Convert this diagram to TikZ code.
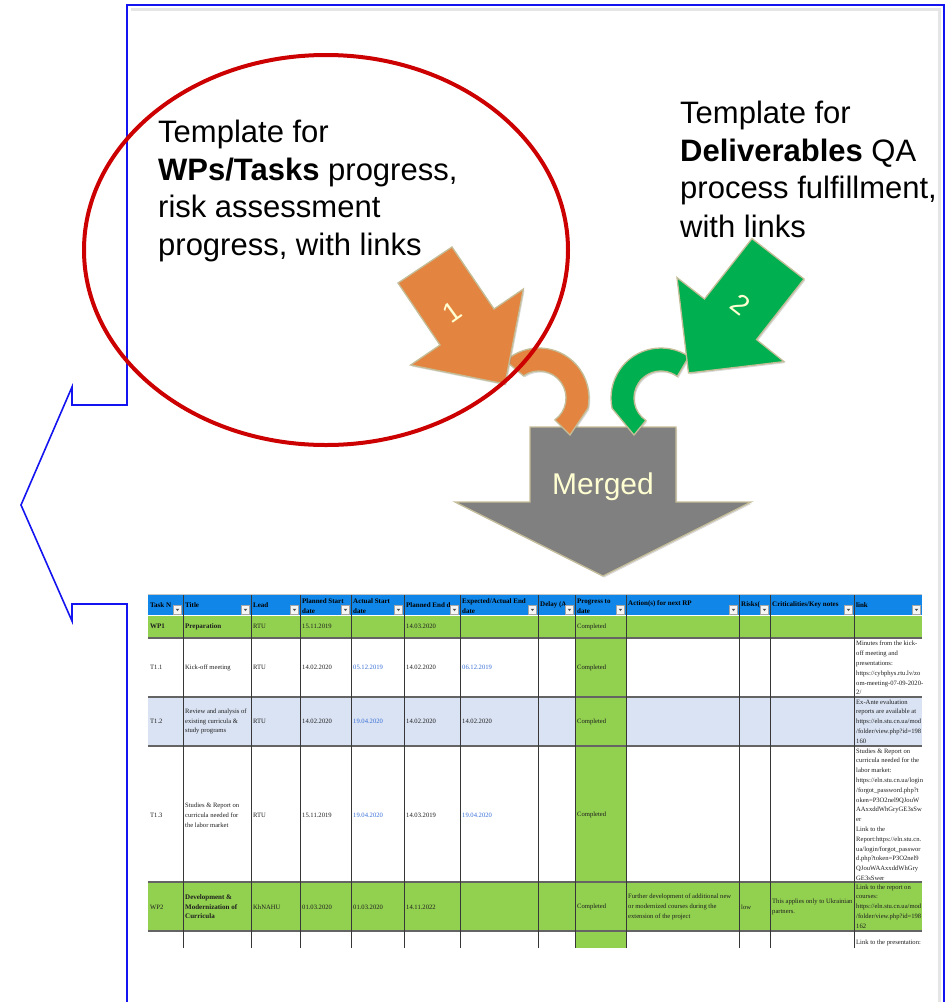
\documentclass[tikz,border=0pt]{standalone}
\usepackage{fontspec}
\setmainfont{Liberation Sans}
\newfontfamily\tabserif{Liberation Serif}
\usetikzlibrary{shadows,calc}
\definecolor{frameblue}{RGB}{20,20,240}
\definecolor{ellred}{RGB}{204,0,0}
\definecolor{arrorange}{RGB}{227,133,64}
\definecolor{arrgreen}{RGB}{0,176,80}
\definecolor{arrgray}{RGB}{128,128,128}
\definecolor{arredge}{RGB}{196,189,151}
\definecolor{cream}{RGB}{255,255,210}
\definecolor{hdrblue}{RGB}{16,134,232}
\definecolor{xlgreen}{RGB}{146,208,80}
\definecolor{xlblue}{RGB}{218,227,243}
\definecolor{datelink}{RGB}{55,110,215}
\definecolor{gridc}{RGB}{55,55,55}
\definecolor{sepc}{RGB}{100,100,100}
\definecolor{tabtext}{RGB}{30,30,30}
\newcommand\tabfont{\tabserif\fontsize{6.6}{9.8}\selectfont}
\newcommand\tabfontb{\tabserif\bfseries\fontsize{7}{9.6}\selectfont}
\newcommand\tc[5][]{\node[tcell,#1] (#2) at (#3,#4) {#5};}
\begin{document}
\begin{tikzpicture}[x=1pt,y=-1pt,
  frameline/.style={draw=frameblue, line width=1.6, line join=miter},
  shapeedge/.style={draw=arredge, line width=1.3, line join=miter,
     drop shadow={opacity=0.3, shadow xshift=1.2pt, shadow yshift=-1.5pt}},
  bigtext/.style={anchor=base west, inner sep=0pt, font=\fontsize{31}{38}\selectfont, text=black},
  numtext/.style={inner sep=0pt, font=\fontsize{28}{30}\selectfont, text=cream},
  mergedtext/.style={anchor=base, inner sep=0pt, font=\fontsize{30}{34}\selectfont, text=cream},
  tcell/.style={anchor=west, inner sep=0pt, align=left, font=\tabfont, text=tabtext},
  thdr/.style={anchor=west, inner sep=0pt, align=left, font=\tabfontb, text=black},
  bold/.style={font=\tabfontb},
  blu/.style={text=datelink},
  btn/.style={draw=gray!70, fill=gray!8, line width=0.4}
]
\useasboundingbox (0,0) rectangle (947,1002);

% ---------- callout frame ----------
\draw[black!10, line width=3] (131,9.5) -- (939.5,9.5) -- (939.5,1006);
\draw[frameline] (944,1006) -- (944,5) -- (127,5) -- (127,405) -- (72,405) -- (72,387)
   -- (21,505) -- (72,621) -- (72,604) -- (127,604) -- (127,1006);

% ---------- table ----------
\fill[hdrblue] (148,595) rectangle (922,615);
\fill[xlgreen] (148,616) rectangle (922,638);
\fill[xlblue] (148,697) rectangle (922,746);
\fill[xlgreen] (148,882) rectangle (922,931);
\fill[xlgreen] (575,638) rectangle (626,948);
\draw[gray!45, line width=0.8] (148,594.5) -- (922,594.5);
\foreach \yy in {638,697,746,882,931}
  \draw[sepc, line width=1.8] (148,\yy) -- (922,\yy);
\foreach \xx in {183,251,300,351,404,460,538,575,626,739,770,854}
  \draw[gridc, line width=0.8] (\xx,595) -- (\xx,948);

% header
\node[thdr] (h1) at (150,605) {Task N};
\node[thdr] (h2) at (185,605) {Title};
\node[thdr] (h3) at (253,605) {Lead};
\node[thdr] (h4) at (302,606) {Planned Start\\date};
\node[thdr] (h5) at (353,606) {Actual Start\\date};
\node[thdr] (h6) at (406,605) {Planned End d};
\node[thdr] (h7) at (462,606) {Expected/Actual End\\date};
\node[thdr] (h8) at (540,605) {Delay (A};
\node[thdr] (h9) at (577,606) {Progress to\\date};
\node[thdr] (h10) at (628,604) {Action(s) for next RP};
\node[thdr] (h11) at (741,605) {Risks(};
\node[thdr] (h12) at (772,605) {Criticalities/Key notes};
\node[thdr] (h13) at (856,605) {link};
\foreach \r in {183,251,300,351,404,460,538,575,626,739,770,854,922}{
  \draw[btn] (\r-9.5,605.5) rectangle (\r-1.5,614);
  \fill[gray!60!black] (\r-7.3,608.8) -- (\r-3.7,608.8) -- (\r-5.5,611) -- cycle;
}

% WP1
\tc[bold]{a1}{150}{626.5}{WP1}
\tc[bold]{a2}{185}{626.5}{Preparation}
\tc{a3}{253}{626.5}{RTU}
\tc{a4}{302}{626.5}{15.11.2019}
\tc{a6}{406}{626.5}{14.03.2020}
\tc{a9}{577}{626.5}{Completed}

% T1.1
\tc{b1}{150}{667.5}{T1.1}
\tc{b2}{185}{667.5}{Kick-off meeting}
\tc{b3}{253}{667.5}{RTU}
\tc{b4}{302}{667.5}{14.02.2020}
\tc[blu]{b5}{353}{667.5}{05.12.2019}
\tc{b6}{406}{667.5}{14.02.2020}
\tc[blu]{b7}{462}{667.5}{06.12.2019}
\tc{b9}{577}{667.5}{Completed}
\tc{b13}{856}{668}{Minutes from the kick-\\off meeting and\\presentations:\\https://cybphys.rtu.lv/zo\\om-meeting-07-09-2020-\\2/}

% T1.2
\tc{c1}{150}{721.5}{T1.2}
\tc{c2}{185}{721.5}{Review and analysis of\\existing curricula \&\\study programs}
\tc{c3}{253}{721.5}{RTU}
\tc{c4}{302}{721.5}{14.02.2020}
\tc[blu]{c5}{353}{721.5}{19.04.2020}
\tc{c6}{406}{721.5}{14.02.2020}
\tc{c7}{462}{721.5}{14.02.2020}
\tc{c9}{577}{721.5}{Completed}
\tc{c13}{856}{721.5}{Ex-Ante evaluation\\reports are available at\\https://eln.stu.cn.ua/mod\\/folder/view.php?id=198\\160}

% T1.3
\tc{d1}{150}{815}{T1.3}
\tc{d2}{185}{815}{Studies \& Report on\\curricula needed for\\the labor market}
\tc{d3}{253}{815}{RTU}
\tc{d4}{302}{815}{15.11.2019}
\tc[blu]{d5}{353}{815}{19.04.2020}
\tc{d6}{406}{815}{14.03.2019}
\tc[blu]{d7}{462}{815}{19.04.2020}
\tc{d9}{577}{815}{Completed}
\tc{d13}{856}{814.5}{Studies \& Report on\\curricula needed for the\\labor market:\\https://eln.stu.cn.ua/login\\/forgot\_password.php?t\\oken=P3O2nel9QJouW\\AAxxddWhGryGE3sSw\\er\\Link to the\\Report:https://eln.stu.cn.\\ua/login/forgot\_passwor\\d.php?token=P3O2nel9\\QJouWAAxxddWhGry\\GE3sSwer}

% WP2
\tc{e1}{150}{907}{WP2}
\tc[bold]{e2}{185}{907}{Development \&\\Modernization of\\Curricula}
\tc{e3}{253}{907}{KhNAHU}
\tc{e4}{302}{907}{01.03.2020}
\tc{e5}{353}{907}{01.03.2020}
\tc{e6}{406}{907}{14.11.2022}
\tc{e9}{577}{907}{Completed}
\tc{e10}{628}{907}{Further development of additional new\\or modernized courses during the\\extension of the project}
\tc{e11}{741}{907}{low}
\tc{e12}{772}{907}{This applies only to Ukrainian\\partners.}
\tc{e13}{856}{906.5}{Link to the report on\\courses:\\https://eln.stu.cn.ua/mod\\/folder/view.php?id=198\\162}

% last row
\tc{f13}{856}{942.5}{Link to the presentation:}

% ---------- merged arrow ----------
\path[shapeedge, fill=arrgray] (530,427) -- (676,427) -- (676,502) -- (751,502)
   -- (603,576) -- (455,502) -- (530,502) -- cycle;
\node[mergedtext] (merged) at (603,494) {Merged};

% ---------- curved arrows ----------
\path[shapeedge, fill=arrorange] (539,398) ++(-132:50) arc[start angle=-132, end angle=12, radius=50]
   -- (570,435) -- ($(539,398)+(54:27)$) arc[start angle=54, end angle=-125, radius=27] -- cycle;
\path[shapeedge, fill=arrgreen] (661,398) ++(-56:50) arc[start angle=-56, end angle=-192, radius=50]
   -- (634,435) -- ($(661,398)+(124:27)$) arc[start angle=124, end angle=307, radius=27] -- cycle;

% ---------- block arrows 1 and 2 ----------
\path[shapeedge, fill=arrorange] (398,283) -- (440,345) -- (410.6,365) -- (505,384)
   -- (523.4,289) -- (494,309) -- (452,247) -- cycle;
\node[numtext, rotate=36] (n1) at (452,312) {1};
\path[shapeedge, fill=arrgreen] (752,238.6) -- (704.5,299) -- (677,277.6) -- (688.5,373)
   -- (784,361.6) -- (756.5,339.6) -- (804,279) -- cycle;
\node[numtext, rotate=-38] (n2) at (741,305) {2};

% ---------- texts ----------
\node[bigtext] (l1) at (158,142) {Template for};
\node[bigtext] (l2) at (158,180) {\textbf{WPs/Tasks} progress,};
\node[bigtext] (l3) at (158,217) {risk assessment};
\node[bigtext] (l4) at (158,255) {progress, with links};

\node[bigtext] (r1) at (680,123) {Template for};
\node[bigtext] (r2) at (680,161) {\textbf{Deliverables} QA};
\node[bigtext] (r3) at (680,198) {process fulfillment,};
\node[bigtext] (r4) at (680,237) {with links};

% ---------- red ellipse ----------
\draw[ellred, line width=4] (326,250) ellipse [x radius=242, y radius=195];
\end{tikzpicture}
\end{document}
